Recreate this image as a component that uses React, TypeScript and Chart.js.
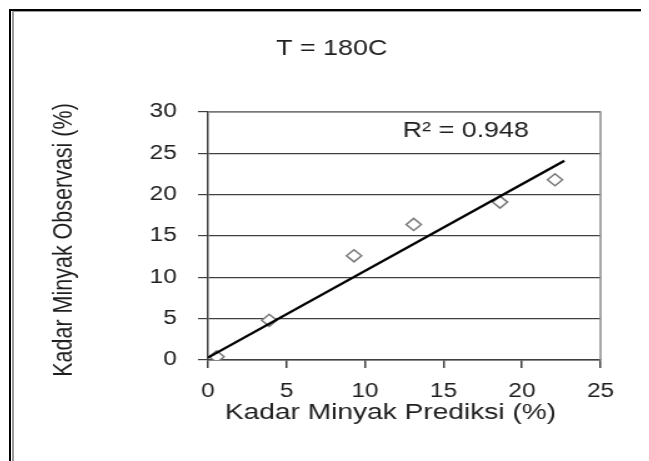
import React, { useEffect, useRef } from 'react';
import { Chart, registerables } from 'chart.js';

Chart.register(...registerables);

// ---- data ----
const predicted = [0.55, 3.9, 9.3, 13.1, 18.6, 22.1];
const observed = [0.4, 4.8, 12.6, 16.4, 19.1, 21.8];
const trendX = [0, 22.7];
const trendY = [0.3, 24.1];
const xTickValues = [0, 5, 10, 15, 20, 25];
const yTickValues = [0, 5, 10, 15, 20, 25, 30];
const chartTitle = 'T = 180C';
const xTitle = 'Kadar Minyak Prediksi (%)';
const yTitle = 'Kadar Minyak Observasi (%)';
const rSquaredText = 'R² = 0.948';
const rLabelAt = [12.4, 27.7];

const SX = 1.25; // horizontal stretch of the reference picture
const CW = 513;
const CH = 453;
const FONT = "'Liberation Sans', Arial, sans-serif";

export default function App() {
  const ref = useRef<HTMLCanvasElement | null>(null);

  useEffect(() => {
    if (!ref.current) return;
    const overlay = {
      id: 'overlay',
      beforeDatasetsDraw(chart: any) {
        const { ctx, chartArea: a } = chart;
        ctx.save();
        ctx.strokeStyle = '#8c8c8c';
        ctx.lineWidth = 1.5;
        ctx.beginPath();
        ctx.moveTo(a.left, a.top);
        ctx.lineTo(a.right, a.top);
        ctx.lineTo(a.right, a.bottom);
        ctx.stroke();
        ctx.restore();
      },
      afterDraw(chart: any) {
        const { ctx, chartArea: a, scales } = chart;
        ctx.save();
        ctx.fillStyle = '#1e1e1e';
        ctx.textBaseline = 'middle';
        // main title
        ctx.font = `21.5px ${FONT}`;
        ctx.textAlign = 'center';
        ctx.fillText(chartTitle, a.left + 99, a.top - 63);
        // R² label
        ctx.textAlign = 'left';
        ctx.fillText(
          rSquaredText,
          scales.x.getPixelForValue(rLabelAt[0]),
          scales.y.getPixelForValue(rLabelAt[1])
        );
        // x title
        ctx.font = `22.5px ${FONT}`;
        ctx.textAlign = 'center';
        ctx.fillText(xTitle, (a.left + a.right) / 2 - 11, a.bottom + 53);
        // y title
        ctx.font = `21.5px ${FONT}`;
        ctx.translate(a.left - 115, (a.top + a.bottom) / 2 + 4);
        ctx.rotate(-Math.PI / 2);
        ctx.fillText(yTitle, 0, 0);
        ctx.restore();
      },
    };

    const chart = new Chart(ref.current, {
      type: 'scatter',
      data: {
        datasets: [
          {
            label: 'trend',
            type: 'line',
            data: trendX.map((x, i) => ({ x, y: trendY[i] })),
            borderColor: '#000000',
            borderWidth: 2.2,
            pointRadius: 0,
            fill: false,
            order: 0,
          },
          {
            label: 'data',
            data: predicted.map((x, i) => ({ x, y: observed[i] })),
            pointStyle: 'rectRot',
            pointRadius: 6,
            pointBorderWidth: 1.5,
            borderColor: '#7a7a7a',
            backgroundColor: '#ffffff',
            order: 1,
          },
        ],
      },
      options: {
        animation: false,
        responsive: false,
        devicePixelRatio: 1,
        layout: { padding: { left: 0, right: 39, top: 104, bottom: 0 } },
        plugins: {
          legend: { display: false },
          tooltip: { enabled: false },
          title: { display: false },
        },
        scales: {
          x: {
            type: 'linear',
            min: 0,
            max: 25,
            afterBuildTicks: (s: any) => {
              s.ticks = xTickValues.map((v) => ({ value: v }));
            },
            afterFit: (s: any) => {
              s.height = 101;
            },
            ticks: {
              color: '#1e1e1e',
              font: { family: FONT, size: 19.5 },
              padding: 12,
              maxRotation: 0,
            },
            grid: {
              drawOnChartArea: false,
              drawTicks: true,
              tickLength: 8,
              color: '#404040',
              lineWidth: 1.5,
            },
            border: { display: true, color: '#404040', width: 1.5 },
          },
          y: {
            type: 'linear',
            min: 0,
            max: 30,
            afterBuildTicks: (s: any) => {
              s.ticks = yTickValues.map((v) => ({ value: v }));
            },
            afterFit: (s: any) => {
              s.width = 160;
            },
            ticks: {
              color: '#1e1e1e',
              font: { family: FONT, size: 19.5 },
              padding: 17,
            },
            grid: {
              color: '#404040',
              lineWidth: 1.2,
              tickLength: 8,
            },
            border: { display: true, color: '#404040', width: 1.5 },
          },
        },
      },
      plugins: [overlay],
    } as any);
    return () => chart.destroy();
  }, []);

  return (
    <div style={{ position: 'relative', width: 641, height: CH, overflow: 'hidden', background: '#fff' }}>
      <div
        style={{
          position: 'absolute',
          left: 0,
          top: 0,
          width: CW,
          height: CH,
          transform: `scaleX(${SX})`,
          transformOrigin: '0 0',
        }}
      >
        <canvas ref={ref} width={CW} height={CH} />
      </div>
      <div
        style={{
          position: 'absolute',
          left: 1,
          top: 1,
          right: 0,
          bottom: 0,
          borderLeft: '2px solid #000',
          borderTop: '2px solid #000',
        }}
      />
      <div
        style={{
          position: 'absolute',
          left: 4,
          top: 3,
          right: 0,
          bottom: 0,
          borderLeft: '2px solid #9a9a9a',
          borderTop: '1px solid #9a9a9a',
        }}
      />
    </div>
  );
}
